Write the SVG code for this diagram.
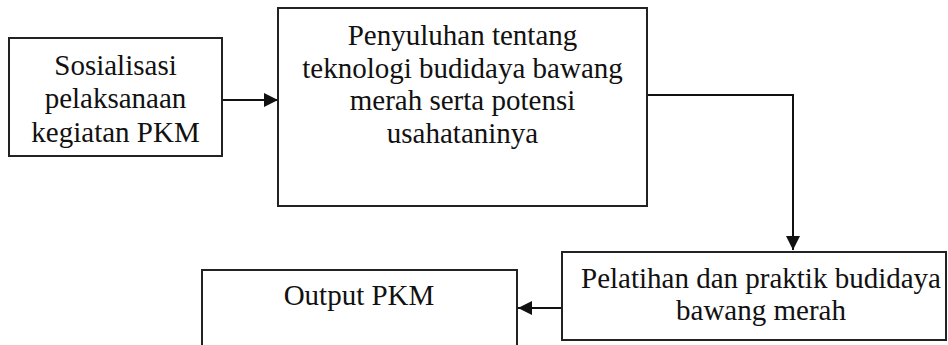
<svg xmlns="http://www.w3.org/2000/svg" width="948" height="345" viewBox="0 0 948 345">
<style>
.box{fill:#fff;stroke:#222;stroke-width:2}
.t{font-family:"Liberation Serif","Times New Roman",serif;font-size:29px;fill:#111;text-anchor:middle}
.c{fill:none;stroke:#111;stroke-width:2;marker-end:url(#ah)}
</style>
<defs>
<marker id="ah" markerUnits="userSpaceOnUse" markerWidth="14" markerHeight="14" viewBox="0 0 14 14" refX="14" refY="7" orient="auto">
<path d="M0,0 L14,7 L0,14 Z" fill="#111"/>
</marker>
</defs>
<rect width="948" height="345" fill="#fff"/>
<g id="connectors">
<path class="c" d="M222,100 H278"/>
<path class="c" d="M647,95 H793 V250"/>
<path class="c" d="M562,308 H518"/>
</g>
<g id="n1">
<rect class="box" x="9" y="38" width="213" height="118"/>
<text class="t" x="115.5" y="75">Sosialisasi</text>
<text class="t" x="115.5" y="108">pelaksanaan</text>
<text class="t" x="115.5" y="142">kegiatan PKM</text>
</g>
<g id="n2">
<rect class="box" x="278" y="8" width="369" height="198"/>
<text class="t" x="462.5" y="45">Penyuluhan tentang</text>
<text class="t" x="462.5" y="78">teknologi budidaya bawang</text>
<text class="t" x="462.5" y="110">merah serta potensi</text>
<text class="t" x="462.5" y="143">usahataninya</text>
</g>
<g id="n3">
<rect class="box" x="562" y="252" width="384" height="88"/>
<text class="t" x="761" y="288">Pelatihan dan praktik budidaya</text>
<text class="t" x="761" y="320">bawang merah</text>
</g>
<g id="n4">
<rect class="box" x="202" y="270" width="315" height="100"/>
<text class="t" x="359" y="305">Output PKM</text>
</g>
</svg>
